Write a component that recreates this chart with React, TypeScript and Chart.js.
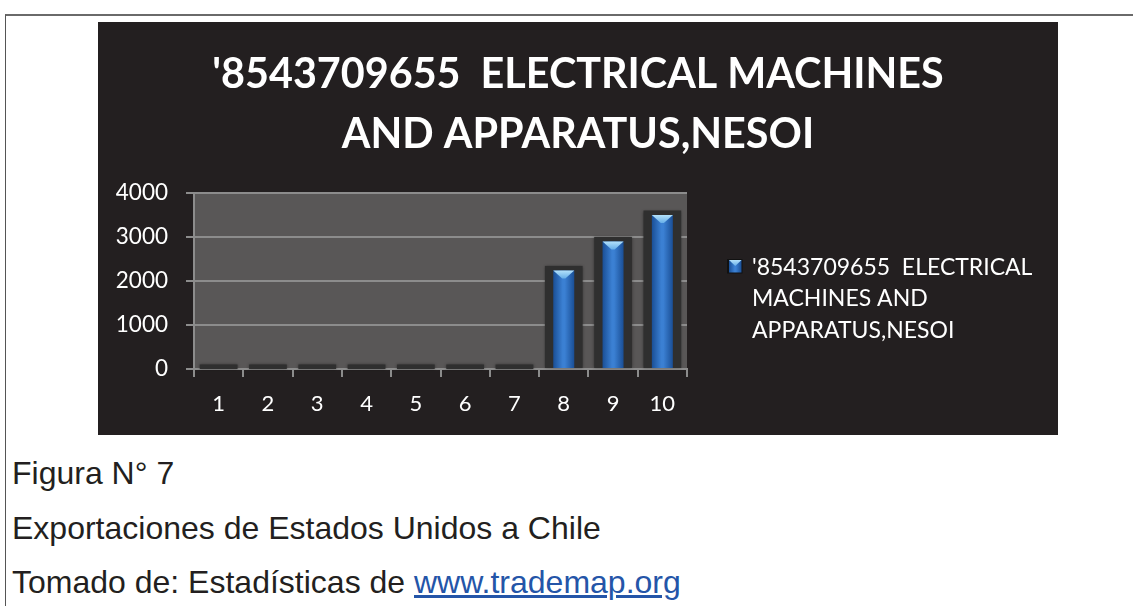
import React, { useEffect, useRef } from "react";
import { Chart, registerables } from "chart.js";

Chart.register(...registerables);

// ---- data ----
const categories = ["1", "2", "3", "4", "5", "6", "7", "8", "9", "10"];
const seriesName = "'8543709655  ELECTRICAL MACHINES AND APPARATUS,NESOI";
const values = [0, 0, 0, 0, 0, 0, 0, 2240, 2900, 3500];
const yTicks = [0, 1000, 2000, 3000, 4000];
const titleLines = ["'8543709655  ELECTRICAL MACHINES", "AND APPARATUS,NESOI"];
const legendLines = ["'8543709655  ELECTRICAL", "MACHINES AND", "APPARATUS,NESOI"];
const captionLines = ["Figura N° 7", "Exportaciones de Estados Unidos a Chile"];
const sourcePrefix = "Tomado de: Estadísticas de ";
const sourceLink = "www.trademap.org";

// ---- styles ----
const BAR_PCT = 0.426;
const SHADOW_PCT = 0.765;
const GRID = "#8c8c8c";
const FONT = "Lato";
const TITLE_SIZE = 41.3;

function blueGradient(ctx: CanvasRenderingContext2D, x0: number, x1: number) {
  const g = ctx.createLinearGradient(x0, 0, x1, 0);
  g.addColorStop(0, "#1a4f96");
  g.addColorStop(0.45, "#3b80d3");
  g.addColorStop(0.55, "#3b80d3");
  g.addColorStop(1, "#1a4f96");
  return g;
}

const plotBg = {
  id: "plotBg",
  beforeDraw(chart: any) {
    const { ctx, chartArea: a } = chart;
    ctx.save();
    ctx.fillStyle = "#595757";
    ctx.fillRect(a.left, a.top, a.right - a.left, a.bottom - a.top);
    ctx.restore();
  },
};

const barShadows = {
  id: "barShadows",
  beforeDatasetsDraw(chart: any) {
    const { ctx, chartArea: a } = chart;
    const meta = chart.getDatasetMeta(0);
    const catW = (a.right - a.left) / categories.length;
    ctx.save();
    ctx.fillStyle = "#2f2f2f";
    ctx.shadowColor = "rgba(0,0,0,0.45)";
    ctx.shadowBlur = 3;
    meta.data.forEach((el: any) => {
      const half = (catW * SHADOW_PCT) / 2;
      const top = Math.min(el.y, el.base) - 4.5;
      const bottom = el.base;
      ctx.fillRect(el.x - half, top, half * 2, bottom - top);
    });
    ctx.restore();
  },
};

const barCaps = {
  id: "barCaps",
  afterDatasetsDraw(chart: any) {
    const { ctx } = chart;
    const meta = chart.getDatasetMeta(0);
    ctx.save();
    meta.data.forEach((el: any, i: number) => {
      if (!values[i]) return;
      const half = el.width / 2;
      const top = el.y;
      const g = ctx.createLinearGradient(0, top, 0, top + 8);
      g.addColorStop(0, "#b4e2fb");
      g.addColorStop(1, "#66aee8");
      ctx.fillStyle = g;
      ctx.beginPath();
      ctx.moveTo(el.x - half, top);
      ctx.lineTo(el.x + half, top);
      ctx.lineTo(el.x + half * 0.15, top + 8);
      ctx.lineTo(el.x - half * 0.15, top + 8);
      ctx.closePath();
      ctx.fill();
    });
    ctx.restore();
  },
};

const customLegend = {
  id: "customLegend",
  afterDraw(chart: any) {
    const { ctx, chartArea: a } = chart;
    const sx = a.right + 42;
    const sy = 238;
    const s = 12.5;
    ctx.save();
    ctx.fillStyle = "#111";
    ctx.fillRect(sx - 2, sy - 1, s + 3, s + 2);
    ctx.fillStyle = blueGradient(ctx, sx, sx + s);
    ctx.fillRect(sx, sy, s, s);
    const g = ctx.createLinearGradient(0, sy, 0, sy + 6);
    g.addColorStop(0, "#b4e2fb");
    g.addColorStop(1, "#66aee8");
    ctx.fillStyle = g;
    ctx.beginPath();
    ctx.moveTo(sx, sy);
    ctx.lineTo(sx + s, sy);
    ctx.lineTo(sx + s / 2, sy + 6);
    ctx.closePath();
    ctx.fill();
    ctx.fillStyle = "#ffffff";
    ctx.font = `23px ${FONT}`;
    ctx.textBaseline = "middle";
    ctx.textAlign = "left";
    legendLines.forEach((line, i) => {
      ctx.fillText(line, sx + 23, 245.5 + i * 31.5);
    });
    ctx.restore();
  },
};

function ChartBox() {
  const ref = useRef<HTMLCanvasElement | null>(null);
  useEffect(() => {
    if (!ref.current) return;
    const chart = new Chart(ref.current, {
      type: "bar",
      data: {
        labels: categories,
        datasets: [
          {
            label: seriesName,
            data: values,
            backgroundColor: (c: any) => {
              const ch = c.chart;
              const a = ch.chartArea;
              const xs = ch.scales && ch.scales.x;
              if (!a || !xs || c.dataIndex === undefined) return "#2a6bbf";
              const catW = (a.right - a.left) / categories.length;
              const cx = xs.getPixelForValue(c.dataIndex);
              const half = (catW * BAR_PCT) / 2;
              return blueGradient(ch.ctx, cx - half, cx + half);
            },
            borderWidth: 0,
            categoryPercentage: 1,
            barPercentage: BAR_PCT,
          },
        ],
      },
      options: {
        responsive: false,
        animation: false,
        layout: { padding: 0 },
        plugins: {
          legend: { display: false },
          tooltip: { enabled: false },
          title: {
            display: true,
            text: titleLines,
            color: "#ffffff",
            font: { family: FONT, size: TITLE_SIZE, weight: "bold", lineHeight: 60 / TITLE_SIZE },
            padding: { top: 23, bottom: 28 },
          },
        },
        scales: {
          x: {
            offset: true,
            grid: {
              display: true,
              drawOnChartArea: false,
              drawTicks: true,
              tickLength: 8,
              color: GRID,
              lineWidth: 2,
              offset: true,
            },
            border: { display: true, color: GRID, width: 2 },
            ticks: {
              color: "#ffffff",
              font: { family: FONT, size: 22 },
              padding: 14,
            },
            afterFit: (s: any) => {
              s.height = 66;
            },
          },
          y: {
            min: 0,
            max: 4000,
            afterBuildTicks: (s: any) => {
              s.ticks = yTicks.map((v) => ({ value: v }));
            },
            grid: { color: GRID, lineWidth: 2, tickLength: 8 },
            border: { display: true, color: GRID, width: 2 },
            ticks: {
              color: "#ffffff",
              font: { family: FONT, size: 22.5 },
              padding: 18,
              callback: (v: any) => String(v),
            },
            afterFit: (s: any) => {
              s.width = 96;
            },
          },
          legendSpace: {
            type: "linear",
            position: "right",
            display: true,
            grid: { display: false, drawTicks: false },
            border: { display: false },
            ticks: { display: false },
            afterFit: (s: any) => {
              s.width = 371;
            },
          },
        },
      },
      plugins: [plotBg, barShadows, barCaps, customLegend],
    } as any);
    return () => chart.destroy();
  }, []);
  return (
    <canvas
      ref={ref}
      width={960}
      height={413}
      style={{
        position: "absolute",
        left: 98,
        top: 22,
        width: 960,
        height: 413,
        background: "#231f20",
      }}
    />
  );
}

export default function App() {
  const textStyle: React.CSSProperties = {
    fontFamily: "'Liberation Sans', Arial, sans-serif",
    fontSize: 32,
    lineHeight: "54.5px",
    color: "#231f20",
    whiteSpace: "nowrap",
  };
  return (
    <div>
      <div
        style={{
          position: "absolute",
          left: 5,
          top: 14,
          width: 1128,
          height: 592,
          borderTop: "2px solid #6a6a6a",
          borderLeft: "1px solid #555",
          boxSizing: "border-box",
        }}
      />
      <ChartBox />
      <div style={{ position: "absolute", left: 12, top: 446, ...textStyle }}>
        {captionLines.map((l, i) => (
          <div key={i}>{l}</div>
        ))}
        <div>
          {sourcePrefix}
          <a href="#" style={{ color: "#2455a8", textDecoration: "underline" }}>
            {sourceLink}
          </a>
        </div>
      </div>
    </div>
  );
}
